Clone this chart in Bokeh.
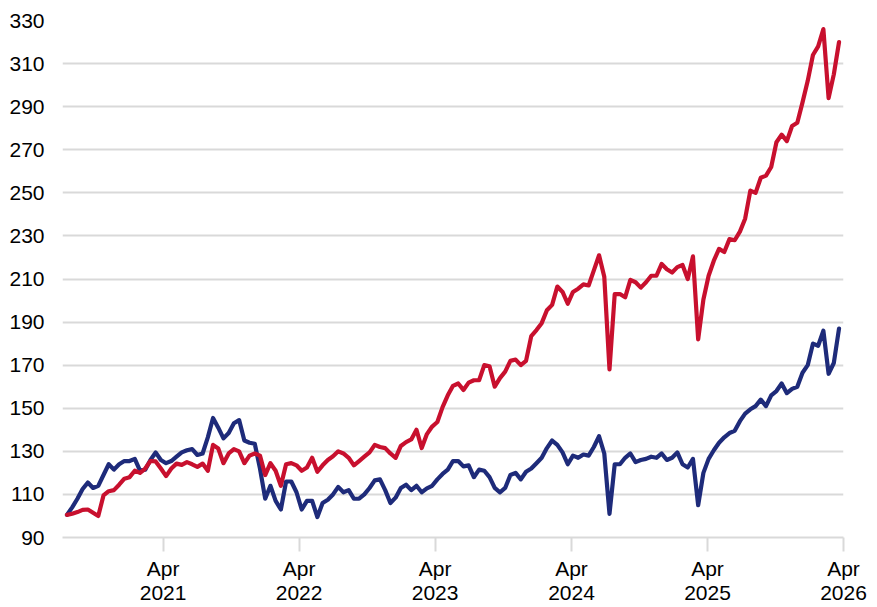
import pandas as pd
from bokeh.plotting import figure
from bokeh.models import FixedTicker, DatetimeTickFormatter, Range1d, ColumnDataSource
from bokeh.embed import file_html
from bokeh.resources import INLINE

# ---- data (one value every 14 days) ----
start_date = "2020-07-17"
step = "14D"

navy_values = [
    100.5, 104, 108, 112.5, 115.5, 113, 114, 119, 124, 121.5,
    124, 125.5, 125.5, 126.5, 121, 121.5, 126, 129.5, 126, 124.5,
    125.5, 127.5, 129.5, 130.5, 131, 128.3, 129, 136.5, 145.5, 141,
    136, 138.5, 143, 144.5, 135, 134, 133.5, 122, 108, 114,
    107, 103, 116, 116, 111, 103, 107, 107, 99.5, 106,
    107.5, 110, 113.5, 111, 112, 108, 108, 110, 113, 116.5,
    117, 112, 106, 108.5, 113, 114.5, 112, 114, 111, 112.8,
    114, 117, 119.5, 121.5, 125.5, 125.5, 123, 123.5, 118, 121.5,
    121, 118, 113, 111, 113, 119, 120, 117, 120.5, 122,
    124.5, 127, 131.5, 135, 133, 129.5, 124, 128, 127, 128.5,
    128, 132, 137, 129, 101, 124, 124, 127, 129, 125,
    126, 126.5, 127.5, 127, 129, 126, 127, 129.5, 124, 122.5,
    126.5, 105, 120, 126.5, 130.5, 134, 136.5, 138.5, 139.5, 144,
    147.5, 149.5, 151, 154, 151, 156, 158, 161.5, 157, 159,
    160, 166.5, 170, 180, 179, 186, 166, 171, 187,
]

red_values = [
    100.5, 101, 101.8, 102.8, 103, 101.5, 100, 109.5, 111.5, 112,
    114.5, 117.3, 118, 121, 120, 122, 125.5, 125.3, 122, 118.5,
    122, 124.3, 123.7, 125, 124, 122.8, 124.3, 121, 133, 131.3,
    124.5, 129, 131, 130, 124.5, 128, 129, 128, 119, 124.5,
    121, 114, 124, 124.5, 123.5, 121, 122.5, 127, 120.5, 123.5,
    126, 127.7, 130, 129, 127, 123.5, 125.5, 127.5, 129.5, 133,
    132, 131.5, 129, 127, 132.5, 134.3, 135.5, 140, 131.5, 138,
    141.5, 143.6, 150.5, 156, 160.4, 161.5, 158.5, 161.9, 163, 163,
    170, 169.5, 160, 164, 167, 172, 172.6, 170, 172, 183.5,
    186.3, 189.5, 195.5, 198, 206.5, 204, 198.5, 204, 205.5, 207.5,
    207, 214, 221, 211, 168, 203, 203, 201.5, 209.6, 208.5,
    206, 208.5, 211.5, 211.5, 217, 214.5, 213, 215.5, 216.5, 210,
    220.5, 182, 200.5, 211.5, 218.5, 224, 222.5, 228.5, 228, 232,
    238, 251, 250, 257, 258, 262, 273.5, 277, 274, 281,
    282.5, 292, 302, 314, 318, 326, 294, 305, 320,
]

y_ticks = [90, 110, 130, 150, 170, 190, 210, 230, 250, 270, 290, 310, 330]
x_tick_dates = ["2021-04-01", "2022-04-01", "2023-04-01",
                "2024-04-01", "2025-04-01", "2026-04-01"]
x_start = "2020-07-05"
x_end = "2026-04-01"

NAVY = "#1E2B7A"
RED = "#C8102E"
GRID = "#D9D9D9"
FONT = "Liberation Sans"

dates = pd.date_range(start_date, periods=len(red_values), freq=step)
src = ColumnDataSource(dict(date=dates, navy=navy_values, red=red_values))

def ms(d):
    return pd.Timestamp(d).value // 10**6

p = figure(width=877, height=607, x_axis_type="datetime",
           output_backend="svg", toolbar_location=None,
           x_range=Range1d(ms(x_start), ms(x_end)),
           y_range=Range1d(y_ticks[0], y_ticks[-1]),
           min_border_left=62, min_border_right=34,
           min_border_top=20, min_border_bottom=64)
p.outline_line_color = None
p.background_fill_color = "white"
p.border_fill_color = "white"

p.line("date", "navy", source=src, line_color=NAVY, line_width=4.2,
       line_join="round", line_cap="round")
p.line("date", "red", source=src, line_color=RED, line_width=4.2,
       line_join="round", line_cap="round")

# x axis
xa = p.xaxis[0]
xa.ticker = FixedTicker(ticks=[ms(d) for d in x_tick_dates])
xa.formatter = DatetimeTickFormatter(years="%b\n%Y", months="%b\n%Y",
                                     days="%b\n%Y", hours="%b\n%Y")
xa.axis_line_color = GRID
xa.axis_line_width = 2
xa.major_tick_line_color = GRID
xa.major_tick_line_width = 2
xa.major_tick_in = 0
xa.major_tick_out = 14
xa.minor_tick_line_color = None
xa.major_label_text_font = FONT
xa.major_label_text_font_size = "21px"
xa.major_label_text_color = "black"
xa.major_label_text_line_height = 1.08
xa.major_label_standoff = 5
p.xgrid.grid_line_color = None

# y axis
ya = p.yaxis[0]
ya.ticker = FixedTicker(ticks=y_ticks)
ya.axis_line_color = None
ya.major_tick_line_color = None
ya.minor_tick_line_color = None
ya.major_label_text_font = FONT
ya.major_label_text_font_size = "21px"
ya.major_label_text_color = "black"
ya.major_label_standoff = 12
p.ygrid.ticker = FixedTicker(ticks=y_ticks)
p.ygrid.grid_line_color = GRID
p.ygrid.grid_line_width = 2

open("out.html", "w").write(file_html(p, INLINE))
